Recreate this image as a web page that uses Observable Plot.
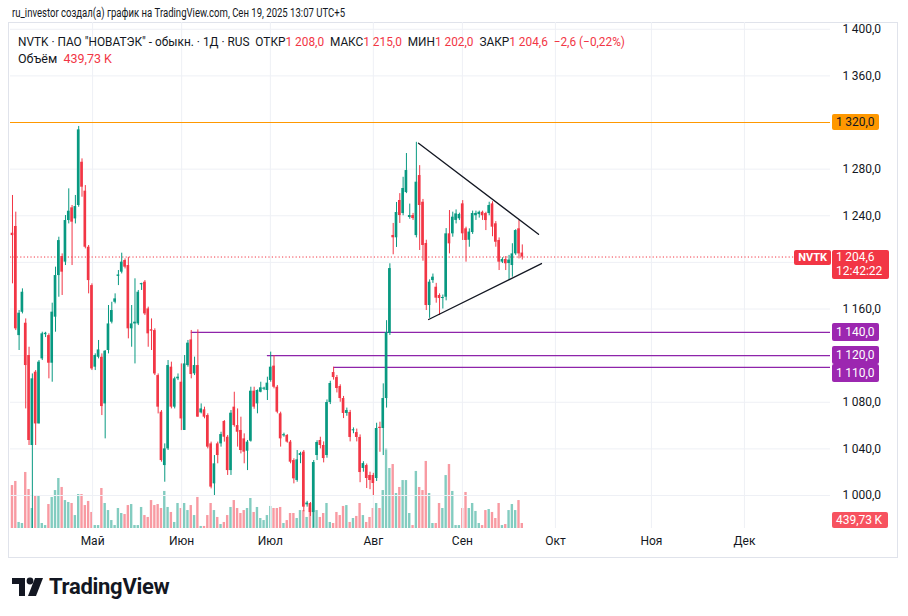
<!DOCTYPE html>
<html><head><meta charset="utf-8">
<script src="https://cdn.jsdelivr.net/npm/d3@7"></script>
<script src="https://cdn.jsdelivr.net/npm/@observablehq/plot@0.6"></script>
<style>
body{margin:0;background:#fff;font-family:Roboto,"Noto Sans",sans-serif;color:#131722}
#wrap{position:relative;width:908px;height:616px;overflow:hidden;background:#fff}
.abs{position:absolute;white-space:nowrap}
.lbl{position:absolute;left:832px;height:16px;line-height:16px;font-size:12px;padding:0 4px;border-radius:2px;color:#fff;box-sizing:border-box;white-space:nowrap}
.red{color:#f23645}
</style></head><body>
<div id="wrap">
  <div class="abs fit" data-w="333" style="left:12px;top:6px;font-size:12px">ru_investor создал(а) график на TradingView.com, Сен 19, 2025 13:07 UTC+5</div>
  <div class="abs" style="left:8px;top:22px;width:890px;height:536px;border:1px solid #e0e3eb;box-sizing:border-box"></div>
  <div id="vol" class="abs" style="left:0;top:22px"></div>
  <div id="price" class="abs" style="left:0;top:22px"></div>
  <div id="labels"></div>
  <div class="abs fit" data-w="607" style="left:18px;top:34px;font-size:12.5px">NVTK · ПАО "НОВАТЭК" - обыкн. · 1Д · RUS&nbsp; ОТКР<span class="red">1 208,0</span>&nbsp; МАКС<span class="red">1 215,0</span>&nbsp; МИН<span class="red">1 202,0</span>&nbsp; ЗАКР<span class="red">1 204,6</span>&nbsp; <span class="red">−2,6 (−0,22%)</span></div>
  <div class="abs" style="left:18px;top:51px;font-size:12.5px">Объём&nbsp; <span class="red">439,73 K</span></div>
  <div class="abs" style="left:12px;top:574px;display:flex;align-items:center">
    <svg width="32" height="20" viewBox="0 0 32 20"><path d="M0 1H13V19H7V7H0Z" fill="#131722"/><circle cx="18" cy="4" r="3.4" fill="#131722"/><path d="M23 1H31L24 19H16Z" fill="#131722"/></svg>
    <span style="font-size:22px;font-weight:700;margin-left:5px;letter-spacing:-0.3px;color:#131722">TradingView</span>
  </div>
</div>
<script>
// ---- data (daily candles, bar index 0..154, early Apr – Sep 19, 2025) ----
const openP = [1225.0,1230.8,1137.2,1157.2,1147.8,1120.1,1042.9,1105.8,1061.4,1117.2,
1138.0,1137.2,1113.5,1153.0,1188.7,1205.0,1200.2,1235.9,1246.8,1237.3,
1248.8,1285.9,1261.1,1213.0,1180.1,1110.1,1118.6,1118.6,1078.6,1124.4,
1148.7,1165.8,1188.0,1191.6,1201.6,1197.3,1143.0,1147.2,1147.2,1180.8,
1183.0,1160.1,1142.2,1141.5,1102.9,1071.5,1025.7,1040.0,1110.1,1075.8,
1100.1,1097.2,1055.8,1111.5,1133.5,1104.4,1111.5,1070.9,1073.5,1068.6,
1044.3,1010.0,1044.3,1044.3,1063.5,1050.0,1021.4,1075.8,1060.0,1055.8,
1048.6,1038.0,1046.6,1089.5,1078.6,1088.6,1091.2,1090.1,1098.7,1111.0,
1092.9,1070.1,1051.2,1051.5,1045.8,1030.0,1012.9,1034.3,1037.2,992.0,
993.1,985.4,1034.3,1047.2,1042.9,1034.3,1079.8,1105.5,1101.2,1093.5,
1083.2,1070.4,1071.2,1055.5,1054.0,1049.8,1023.2,1025.7,1017.2,1017.2,
1014.6,1058.5,1057.5,1083.2,1139.0,1223.1,1221.1,1253.1,1241.9,1259.9,
1238.5,1240.2,1223.0,1274.5,1251.6,1216.2,1163.0,1184.4,1178.7,1171.6,
1169.0,1170.1,1224.5,1224.5,1236.0,1237.4,1250.2,1228.8,1219.0,1225.6,
1240.0,1241.0,1243.0,1241.9,1241.9,1250.2,1233.1,1218.8,1200.2,1202.5,
1199.0,1197.3,1207.3,1228.8,1208.0];
const highP = [1257.4,1243.1,1158.7,1177.3,1151.5,1127.2,1104.3,1107.2,1115.8,1140.1,
1140.0,1138.7,1165.0,1195.9,1221.6,1207.3,1240.2,1263.1,1248.8,1257.4,
1316.6,1288.8,1265.9,1214.5,1181.6,1121.5,1133.0,1121.5,1124.4,1163.0,
1165.8,1173.0,1193.0,1207.9,1203.0,1204.4,1163.0,1185.9,1175.9,1182.1,
1184.4,1161.6,1151.5,1143.0,1104.3,1072.9,1044.3,1115.8,1114.4,1101.5,
1104.3,1112.9,1120.1,1133.0,1141.6,1118.7,1142.1,1078.6,1075.8,1070.1,
1045.8,1034.3,1045.8,1054.3,1064.3,1051.5,1072.9,1088.6,1074.3,1067.2,
1052.9,1047.2,1092.9,1092.9,1090.6,1097.2,1092.9,1101.5,1123.0,1120.1,
1094.4,1071.5,1053.5,1052.3,1047.2,1031.5,1038.6,1037.1,1038.6,995.0,
994.0,1030.0,1047.0,1050.0,1046.0,1082.0,1098.0,1110.0,1103.0,1095.0,
1085.0,1075.0,1073.0,1058.0,1057.0,1052.0,1029.0,1027.0,1020.0,1019.0,
1062.0,1062.9,1095.8,1150.0,1198.8,1233.4,1251.4,1259.0,1273.0,1293.4,
1250.0,1242.0,1303.0,1283.0,1254.0,1219.0,1185.0,1190.0,1182.0,1173.0,
1172.0,1229.0,1244.5,1243.1,1245.0,1242.2,1253.0,1230.2,1228.8,1244.0,
1244.0,1244.0,1244.0,1243.0,1251.6,1252.0,1235.0,1221.0,1204.0,1205.0,
1206.0,1216.0,1228.0,1236.0,1215.0];
const lowP = [1181.6,1141.5,1124.4,1155.8,1074.3,1042.9,968.0,1042.9,1061.4,1115.8,
1135.5,1100.1,1097.2,1140.1,1170.1,1171.6,1197.3,1233.0,1197.3,1233.0,
1247.3,1255.9,1211.6,1173.0,1107.2,1107.2,1117.2,1068.6,1048.6,1121.5,
1147.2,1164.4,1180.1,1190.1,1194.4,1134.4,1127.2,1112.9,1145.8,1175.9,
1154.4,1127.2,1124.4,1102.9,1070.0,1028.6,1011.4,1038.6,1074.3,1074.3,
1098.6,1055.7,1055.8,1110.1,1100.1,1102.9,1067.2,1070.0,1065.8,1040.0,
1005.7,1000.0,1027.2,1041.5,1045.8,1017.2,1017.2,1058.6,1041.5,1035.7,
1027.2,1021.4,1045.8,1074.0,1070.1,1088.1,1090.0,1081.5,1097.2,1091.5,
1070.1,1041.5,1050.0,1044.9,1027.2,1010.0,1011.4,1027.3,986.0,990.0,
982.0,972.0,1030.0,1040.0,1028.0,1032.0,1078.0,1099.0,1088.0,1080.0,
1066.0,1068.0,1046.0,1053.0,1046.0,1011.0,1020.0,1006.0,1005.0,1000.0,
1012.0,1037.1,1034.3,1075.0,1137.3,1206.5,1212.8,1233.4,1240.0,1259.0,
1237.0,1236.0,1221.0,1210.2,1201.0,1158.7,1152.0,1182.0,1165.0,1154.4,
1160.0,1167.0,1207.3,1221.6,1233.0,1235.9,1218.8,1200.2,1213.0,1224.0,
1236.0,1238.0,1236.0,1227.3,1240.0,1222.0,1213.0,1193.0,1199.0,1193.0,
1184.4,1187.3,1206.0,1203.0,1202.0];
const closeP = [1223.0,1143.0,1156.4,1174.4,1111.5,1047.2,1100.1,1061.4,1114.4,1138.7,
1139.2,1113.5,1157.3,1188.7,1218.7,1191.6,1235.9,1243.9,1234.5,1247.9,
1313.7,1264.5,1213.0,1184.4,1108.6,1120.1,1124.9,1076.3,1123.8,1147.2,
1158.7,1168.7,1189.2,1200.2,1195.9,1143.0,1147.2,1148.7,1174.4,1181.8,
1155.8,1138.7,1141.0,1104.3,1075.8,1030.0,1040.0,1111.5,1075.8,1100.1,
1101.5,1065.7,1112.9,1130.7,1103.8,1111.5,1067.2,1074.3,1067.2,1041.5,
1007.2,1027.2,1034.3,1052.3,1050.0,1021.4,1070.6,1060.0,1054.3,1038.6,
1037.2,1045.8,1089.5,1075.8,1090.1,1092.4,1092.0,1096.4,1110.1,1092.9,
1071.5,1048.6,1052.2,1045.8,1028.6,1014.3,1030.6,1036.0,990.0,993.5,
985.4,1028.3,1045.5,1042.9,1031.7,1079.8,1096.1,1101.2,1091.8,1083.2,
1070.4,1072.9,1049.8,1056.2,1049.8,1019.7,1027.4,1014.6,1012.9,1010.3,
1057.5,1057.5,1083.2,1139.8,1194.7,1221.1,1242.8,1240.2,1263.4,1278.8,
1240.2,1237.6,1268.8,1248.8,1214.5,1163.0,1183.0,1187.3,1169.3,1169.0,
1169.9,1224.5,1215.9,1238.8,1241.6,1241.1,1224.5,1218.8,1226.0,1241.9,
1242.0,1243.0,1240.0,1235.9,1248.8,1230.2,1217.3,1200.2,1202.5,1198.8,
1202.0,1207.3,1227.3,1207.3,1204.6];
const volumeK = [3780,4140,530,440,4930,3430,1760,2820,2900,440,
260,2110,2730,3340,4400,3610,2460,2290,2200,1140,
2990,2990,2020,2380,1410,260,260,3520,2200,1580,
700,260,1760,1320,1230,2020,2110,260,260,1850,
1140,970,2460,2020,2110,1760,3260,1850,1410,530,
2200,1760,2200,1580,2020,1140,2730,180,180,1140,
2200,1580,970,350,530,1140,1850,2460,1760,1320,
1580,1760,2640,1410,1850,880,700,1140,1940,1760,
1760,1850,440,700,1320,1320,880,1580,1580,970,
1760,1410,1580,970,1320,2200,530,440,1410,1140,
1940,2020,530,880,1060,2200,1140,530,970,1760,
2200,1760,3340,7040,5280,5630,3080,3610,4220,4220,
1320,260,5020,3610,3340,5900,3080,440,440,2200,
1760,4660,5630,3260,260,260,1760,3170,1760,2200,
1500,440,260,1580,1670,1410,880,2200,260,350,
1580,2110,1580,2460,439.73];
const monthLabels = ["Май","Июн","Июл","Авг","Сен","Окт","Ноя","Дек"];
const monthPos = [24.2, 51.1, 77.9, 109.0, 135.9, 164.0, 193.0, 221.1];
const priceTicks = [1000,1040,1080,1120,1160,1200,1240,1280,1320,1360,1400];
const resistanceLevel = 1320;
const levelPrices = [1140, 1120, 1110];
const levelStart = [54, 77, 97];
const triUpper = [[122.66, 1302.2], [158.9, 1224.1]];
const triLower = [[125.7, 1151.0], [159.8, 1199.0]];
const lastPrice = 1204.6;
const lastVolumeK = 439.73;
const countdown = "12:42:22";
const ticker = "NVTK";

// ---- chart ----
const GREEN = "#089981", RED = "#f23645";
const bars = openP.map((o, i) => ({i, o, h: highP[i], l: lowP[i], c: closeP[i], v: volumeK[i], up: closeP[i] >= o}));
const xEnd = 247.1;
const W = 908, H = 536, ML = 10, MR = 78, MB = 30;
const font = "Roboto, 'Noto Sans', sans-serif";
const loc = d3.formatLocale({decimal: ",", thousands: "\u2009", grouping: [3], currency: ["", ""]});
const fmt = loc.format(",.1f");

// axis ticks hidden by the coloured axis labels are not drawn (as in the reference)
const labelled = [resistanceLevel, lastPrice, ...levelPrices];
const visibleTicks = priceTicks.filter(t => labelled.every(p => Math.abs(p - t) > 12));

const volPlot = Plot.plot({
  width: W, height: H, marginLeft: ML, marginRight: MR, marginTop: H - MB - 100, marginBottom: MB,
  x: {type: "linear", domain: [-0.6, xEnd], axis: null},
  y: {domain: [0, 8800], axis: null},
  color: {type: "identity"},
  style: {background: "transparent"},
  marks: [
    Plot.rect(bars, {x1: d => d.i - 0.36, x2: d => d.i + 0.36, y1: 0, y2: "v",
      fill: d => d.up ? "rgba(8,153,129,0.5)" : "rgba(242,54,69,0.5)"})
  ]
});
document.getElementById("vol").append(volPlot);

const levels = levelPrices.map((p, k) => ({p, from: levelStart[k], to: xEnd}));
const pricePlot = Plot.plot({
  width: W, height: H, marginLeft: ML, marginRight: MR, marginTop: 0, marginBottom: MB,
  x: {type: "linear", domain: [-0.6, xEnd], axis: null},
  y: {domain: [971.7, 1405.8], axis: null},
  color: {type: "identity"},
  style: {background: "transparent", fontFamily: font, fontSize: "12px", color: "#131722"},
  marks: [
    Plot.gridY(priceTicks, {stroke: "#eef0f5", strokeOpacity: 1}),
    Plot.gridX(monthPos, {stroke: "#eef0f5", strokeOpacity: 1}),
    Plot.axisY(visibleTicks, {anchor: "right", tickSize: 0, tickPadding: 12, tickFormat: fmt, fontSize: 12, fill: "#131722"}),
    Plot.axisX(monthPos, {anchor: "bottom", tickSize: 0, tickPadding: 8, fontSize: 12, fill: "#131722",
      tickFormat: d => monthLabels[monthPos.indexOf(d)]}),
    Plot.ruleY([resistanceLevel], {stroke: "#ff9800", strokeWidth: 1.2}),
    Plot.ruleY(levels, {y: "p", x1: "from", x2: "to", stroke: "#8e24aa", strokeWidth: 1.2}),
    Plot.ruleY([lastPrice], {x1: -0.6, x2: 236, stroke: RED, strokeDasharray: "1.2,2.2", strokeWidth: 1}),
    Plot.ruleX(bars, {x: "i", y1: "l", y2: "h", stroke: d => d.up ? GREEN : RED, strokeWidth: 1, clip: true}),
    Plot.rect(bars, {x1: d => d.i - 0.4, x2: d => d.i + 0.4, y1: "o",
      y2: d => Math.abs(d.c - d.o) < 0.9 ? d.o + (d.up ? 0.9 : -0.9) : d.c,
      fill: d => d.up ? GREEN : RED, clip: true}),
    Plot.line(triUpper, {x: d => d[0], y: d => d[1], stroke: "#131722", strokeWidth: 1.3}),
    Plot.line(triLower, {x: d => d[0], y: d => d[1], stroke: "#131722", strokeWidth: 1.3})
  ]
});
document.getElementById("price").append(pricePlot);

// ---- axis labels placed with the plots' scales ----
const top0 = 22;
const ys = pricePlot.scale("y"), vs = volPlot.scale("y"), xs = pricePlot.scale("x");
const lab = document.getElementById("labels");
function addLabel(text, cy, bg, color, h = 16, extra = "") {
  const d = document.createElement("div");
  d.className = "lbl";
  d.style.top = (cy - h / 2) + "px";
  d.style.height = h + "px";
  d.style.background = bg;
  d.style.color = color;
  d.style.cssText += extra;
  d.innerHTML = text;
  lab.append(d);
  return d;
}
addLabel(fmt(resistanceLevel), top0 + ys.apply(resistanceLevel), "#ff9800", "#131722");
// purple level labels with overlap avoidance
let prevBottom = -1e9;
levelPrices.map(p => top0 + ys.apply(p)).forEach((cy, k) => {
  let c = cy;
  if (c - 9 < prevBottom) c = prevBottom + 9;
  addLabel(fmt(levelPrices[k]), c, "#9c27b0", "#fff", 18, "line-height:18px;");
  prevBottom = c + 9;
});
// last price
const lp = top0 + ys.apply(lastPrice);
addLabel(fmt(lastPrice) + "<br>" + countdown, lp + 7.5, RED, "#fff", 29, "line-height:14px;padding-top:0px;width:57px;");
const tk = addLabel(ticker, lp + 1, RED, "#fff", 15, "line-height:15px;font-weight:700;font-size:11px;");
tk.style.left = (xs.apply(236) + 1) + "px";
// volume
const vy = Math.min(top0 + vs.apply(lastVolumeK), top0 + H - MB - 8);
addLabel(d3.format(".2f")(lastVolumeK).replace(".", ",") + "\u2009K", vy, "#f7525f", "#fff", 16, "width:56px;");

// fit text widths to reference
document.querySelectorAll(".fit").forEach(el => {
  const w = el.getBoundingClientRect().width, t = +el.dataset.w;
  el.style.transformOrigin = "0 0";
  el.style.transform = `scaleX(${t / w})`;
});
</script>
</body></html>
